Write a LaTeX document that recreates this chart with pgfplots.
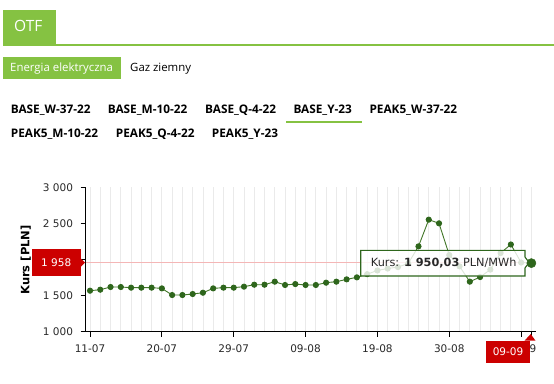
\documentclass[border=0pt]{standalone}
\usepackage{pgfplots}
\pgfplotsset{compat=1.18}
\usepackage{fontspec}
\setmainfont{DejaVu Sans}
\newfontfamily\osans{Open Sans}
\definecolor{hgreen}{RGB}{133,194,66}
\definecolor{dgreen}{RGB}{46,102,28}
\definecolor{lgreen}{RGB}{66,118,40}
\definecolor{hred}{RGB}{204,0,0}
\definecolor{gridc}{RGB}{234,234,234}
\definecolor{cross}{RGB}{244,182,182}
\definecolor{ttext}{RGB}{40,40,40}
\pgfplotstableread{
x y
0 1568
1 1582
2 1619
3 1619
4 1610
5 1610
6 1610
7 1600
8 1508
9 1508
10 1522
11 1540
12 1600
13 1610
14 1610
15 1624
16 1651
17 1651
18 1693
19 1647
20 1660
21 1647
22 1647
23 1679
24 1693
25 1725
26 1753
27 1797
28 1848
29 1875
30 1895
31 1945
32 2182
33 2552
34 2501
35 2062
36 1905
37 1693
38 1757
39 1860
40 2090
41 2208
42 1958
43 1950.03
}\kurs
\begin{document}
\begin{tikzpicture}[x=1bp,y=1bp]
\path[use as bounding box] (0,0) rectangle (554,383);
% header
\fill[hgreen] (3.3,338) rectangle (56,373);
\draw[hgreen,line width=1.5bp] (3.3,338) -- (554,338);
\node[anchor=base west,inner sep=0,text=white,font=\osans\fontsize{15.5bp}{18bp}\selectfont] at (14,351.3) {OTF};
\fill[hgreen] (3.3,304) rectangle (120.7,326.3);
\node[anchor=base west,inner sep=0,text=white,font=\osans\fontsize{11.4bp}{13bp}\selectfont] at (10,312) {Energia elektryczna};
\node[anchor=base west,inner sep=0,font=\osans\fontsize{11.4bp}{13bp}\selectfont] at (130,312) {Gaz ziemny};
% tabs
\tikzset{tab/.style={anchor=base west,inner sep=0,font=\osans\bfseries\fontsize{11.8bp}{13bp}\selectfont}}
\node[tab] at (10.7,269.7) {BASE\_W-37-22};
\node[tab] at (107.7,269.7) {BASE\_M-10-22};
\node[tab] at (205,269.7) {BASE\_Q-4-22};
\node[tab] at (293.3,269.7) {BASE\_Y-23};
\node[tab] at (369.3,269.7) {PEAK5\_W-37-22};
\node[tab] at (10.7,245.3) {PEAK5\_M-10-22};
\node[tab] at (115.7,245.3) {PEAK5\_Q-4-22};
\node[tab] at (211.7,245.3) {PEAK5\_Y-23};
\draw[hgreen,line width=1.2bp] (286,261) -- (361.7,261);
% chart
\begin{axis}[at={(85.5bp,51.3bp)}, anchor=south west, scale only axis,
  width=450.5bp, height=144.4bp,
  xmin=-0.44, xmax=43.45, ymin=1000, ymax=3000,
  axis x line*=bottom, axis y line*=left,
  axis line style={black,line width=0.9bp},
  xtick={0,7,14,21,28,35,42},
  xticklabels={11-07,20-07,29-07,09-08,19-08,30-08,08-09},
  minor xtick={0,...,43},
  xmajorgrids, xminorgrids,
  major grid style={gridc,line width=0.8bp},
  minor grid style={gridc,line width=0.8bp},
  ytick={1000,1500,2000,2500,3000},
  yticklabels={1 000,1 500,2 000,2 500,3 000},
  tick align=outside, major tick length=5bp, minor tick length=0pt,
  tick style={black,line width=0.9bp},
  /pgf/number format/assume math mode=true,
  ticklabel style={font=\fontsize{10.5bp}{12bp}\selectfont, text=ttext},
  xticklabel style={yshift=-4bp},
  yticklabel style={xshift=-4bp},
  clip=false,
]
\draw[cross,line width=0.8bp] (axis cs:-0.44,1958) -- (axis cs:43.45,1958);
\addplot[color=lgreen, line width=0.9bp, mark=*, mark size=2.6bp,
  mark options={fill=dgreen,draw=dgreen}] table[x=x,y=y] {\kurs};
\end{axis}
\node[rotate=90,inner sep=0,font=\bfseries\fontsize{11.5bp}{13bp}\selectfont] at (25.7,123) {Kurs [PLN]};
% tooltip
\draw[dgreen,line width=1.1bp,fill=white,fill opacity=0.82]
  (360.7,132.7) -- (525,132.7) -- (525,126) -- (529,120.5) -- (525,115) -- (525,107) -- (360.7,107) -- cycle;
\node[anchor=west,inner sep=0,text=ttext,font=\fontsize{11.3bp}{13bp}\selectfont] at (370.7,120) {Kurs: \textbf{1 950,03} PLN/MWh};
% big marker
\begin{axis}[at={(85.5bp,51.3bp)}, anchor=south west, scale only axis,
  width=450.5bp, height=144.4bp,
  xmin=-0.44, xmax=43.45, ymin=1000, ymax=3000, hide axis, clip=false]
\addplot[only marks, mark=*, mark size=4.6bp, mark options={fill=dgreen,draw=dgreen}] coordinates {(43,1950.03)};
\end{axis}
% crosshair labels
\fill[hred] (31.7,107) rectangle (80.7,134) ;
\fill[hred] (80.5,125) -- (85,120.5) -- (80.5,116) -- cycle;
\node[text=white,inner sep=0,font=\fontsize{10.5bp}{12bp}\selectfont] at (56.2,120.5) {1 958};
\draw[black,line width=0.9bp] (531,51.3) -- (531,46.5);
\fill[hred] (486,20.3) rectangle (530,42.3);
\fill[hred] (524.5,42.3) -- (530.7,49) -- (535.5,42.3) -- cycle;
\node[text=white,inner sep=0,font=\fontsize{10.5bp}{12bp}\selectfont] at (508,31.3) {09-09};
\end{tikzpicture}
\end{document}
